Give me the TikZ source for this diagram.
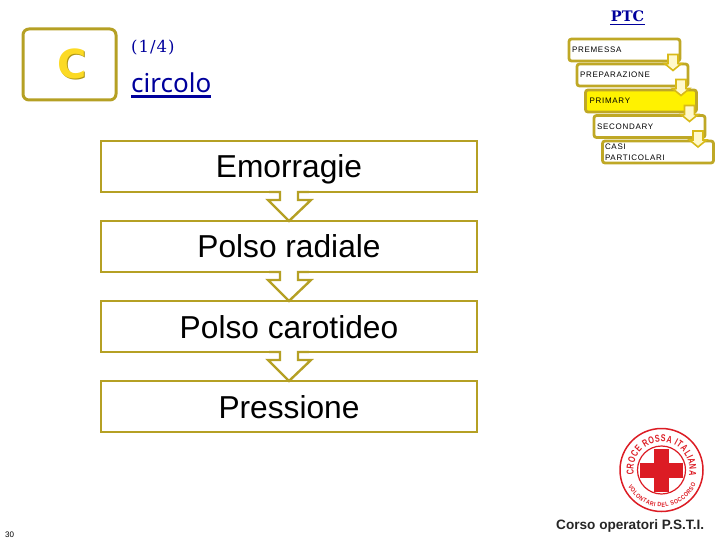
\documentclass[tikz,border=0pt]{standalone}
\usepackage{fontspec}
\setmainfont{Liberation Sans}
\newfontfamily\spaced[LetterSpace=9]{Liberation Sans}
\newfontfamily\serifd{DejaVu Serif}
\newfontfamily\serifspaced[LetterSpace=6]{DejaVu Serif}
\newfontfamily\humanist{Noto Sans}
\newfontfamily\cbold{DejaVu Sans Bold}
\newfontfamily\logotop[FakeStretch=0.72]{Liberation Sans Bold}
\newfontfamily\logobot[FakeStretch=0.85]{Liberation Sans Bold}
\usetikzlibrary{decorations.text,calc}
\definecolor{gold}{HTML}{B5A024}
\definecolor{gold2}{HTML}{BFA826}
\definecolor{arrowgold}{HTML}{D8BA18}
\definecolor{arrowfill}{HTML}{FFF9CC}
\definecolor{navy}{HTML}{00009C}
\definecolor{crimson}{HTML}{DC1C24}
\tikzset{
  x=1pt,y=1pt,
  bigbox/.style={draw=gold,line width=2.8pt,fill=white,outer sep=0pt,minimum width=376pt,minimum height=51pt,inner sep=0pt,text height=28pt,text depth=5pt,font=\fontsize{31.7}{34}\selectfont,text=black},
  stepbox/.style={draw=gold2,line width=2.8pt,fill=white,outer sep=0pt,rounded corners=2.5pt,text width=111pt,minimum height=22pt,inner sep=0pt,align=left,font=\spaced\fontsize{8}{11}\selectfont,text=black},
  title/.style={inner sep=0pt,text=navy},
}
\newcommand{\bigarrow}[2]{%
  \path (#1.south) coordinate (t);
  \fill[white] ($(t)+(-9,2)$) -- ($(t)+(-9,-8)$) -- ($(t)+(-21,-8)$) -- (#2.north) -- ($(t)+(22,-8)$) -- ($(t)+(9,-8)$) -- ($(t)+(9,2)$) -- cycle;
  \draw[gold,line width=2.4pt,line join=miter] ($(t)+(-20,0)$) -- ($(t)+(-9,0)$) -- ($(t)+(-9,-8)$) -- ($(t)+(-21,-8)$) -- (#2.north) -- ($(t)+(22,-8)$) -- ($(t)+(9,-8)$) -- ($(t)+(9,0)$) -- ($(t)+(20,0)$);
}
\newcommand{\smallarrow}[2]{%
  \path (#1.south east) ++(-7,6.5) coordinate (s);
  \filldraw[draw=arrowgold,fill=arrowfill,line width=1.6pt,line join=miter]
    ($(s)+(-5,0)$) -- ($(s)+(5,0)$) -- ($(s)+(5,-9)$) -- ($(s)+(8.5,-9)$) -- ($(s)+(0,-16)$) -- ($(s)+(-8.5,-9)$) -- ($(s)+(-5,-9)$) -- cycle;
}
\begin{document}
\begin{tikzpicture}
\useasboundingbox (0,0) rectangle (720,-540);
% C tab
\node[draw=gold,line width=3pt,rounded corners=6pt,minimum width=93pt,minimum height=71pt,inner sep=0pt] (tab) at (69.5,-64.5) {};
\node[inner sep=0pt,text=arrowgold!80!black] (cshadow) at (73.5,-64.5) {\cbold\fontsize{40}{40}\selectfont C};
\node[inner sep=0pt,text={rgb,255:red,252;green,218;blue,36}] (cletter) at (72.5,-63.5) {\cbold\fontsize{40}{40}\selectfont C};
% titles
\node[title,anchor=base west] (part) at (131,-53) {\serifspaced\fontsize{16.5}{18}\selectfont (1/4)};
\node[title,anchor=base west] (circ) at (131,-93) {\humanist\fontsize{26}{28}\selectfont circolo};
\draw[navy,line width=2.6pt] (131,-96.5) -- (211,-96.5);
\node[title,anchor=base] (ptc) at (627.5,-22) {\serifd\bfseries\fontsize{14.5}{16}\selectfont PTC};
\draw[navy,line width=1.3pt] (610,-24.5) -- (645,-24.5);
% main boxes
\node[bigbox] (a) at (289,-166.5) {Emorragie};
\node[bigbox] (b) at (289,-246.5) {Polso radiale};
\node[bigbox] (c) at (289,-326.5) {Polso carotideo};
\node[bigbox] (d) at (289,-406.5) {Pressione};
\bigarrow{a}{b}
\bigarrow{b}{c}
\bigarrow{c}{d}
% step boxes
\node[stepbox] (s1) at (624.5,-50) {\hspace*{3pt}PREMESSA};
\node[stepbox] (s2) at (632.5,-75) {\hspace*{3pt}PREPARAZIONE};
\node[stepbox,fill=yellow] (s3) at (641,-101) {\hspace*{4pt}PRIMARY};
\node[stepbox] (s4) at (649.5,-126.5) {\hspace*{3pt}SECONDARY};
\node[stepbox] (s5) at (658,-152) {\hspace*{2.5pt}CASI\\\hspace*{2.5pt}PARTICOLARI};
\smallarrow{s1}{s2}
\smallarrow{s2}{s3}
\smallarrow{s3}{s4}
\smallarrow{s4}{s5}
% logo
\coordinate (lg) at (661.5,-470);
\draw[crimson,line width=1.5pt] (lg) circle[radius=41.5];
\draw[crimson,line width=1.2pt] (lg) circle[radius=24];
\fill[crimson] ($(lg)+(-7.5,-21.5)$) rectangle ($(lg)+(7.5,21.5)$);
\fill[crimson] ($(lg)+(-21.5,-7.5)$) rectangle ($(lg)+(21.5,7.5)$);
\path[decorate,decoration={text along path,text color=crimson,text align=fit to path,
   text={|\logotop\fontsize{10}{11}\selectfont|CROCE ROSSA ITALIANA}}]
   ($(lg)+(190:28)$) arc[start angle=190,end angle=-12,radius=28];
\path[decorate,decoration={text along path,text color=crimson,text align=fit to path,
   text={|\logobot\fontsize{6.2}{7}\selectfont|VOLONTARI DEL SOCCORSO}}]
   ($(lg)+(206:37)$) arc[start angle=206,end angle=338,radius=37];
% footer
\node[anchor=base west,inner sep=0pt,font=\bfseries\fontsize{13.6}{15}\selectfont,text=black!85] (course) at (556,-529) {Corso operatori P.S.T.I.};
\node[anchor=base west,inner sep=0pt,font=\fontsize{8}{10}\selectfont,text=black] (page) at (5,-537) {30};
\end{tikzpicture}
\end{document}
